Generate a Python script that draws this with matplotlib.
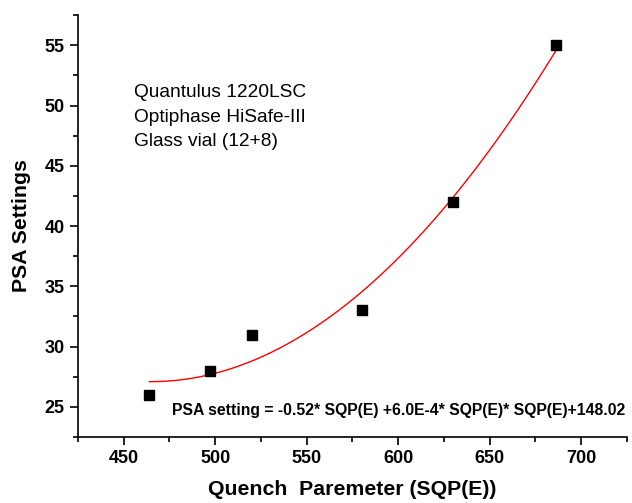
import matplotlib
matplotlib.use("Agg")
import matplotlib.pyplot as plt
import numpy as np
from matplotlib.ticker import MultipleLocator

# data
sqp = np.array([464, 497, 520, 580, 630, 686])
psa = np.array([26, 28, 31, 33, 42, 55])

info_lines = ["Quantulus 1220LSC", "Optiphase HiSafe-III", "Glass vial (12+8)"]
equation = "PSA setting = -0.52* SQP(E) +6.0E-4* SQP(E)* SQP(E)+148.02"

plt.rcParams['font.family'] = ['Liberation Sans', 'DejaVu Sans']

fig = plt.figure(figsize=(6.32, 5.03), dpi=100)
ax = fig.add_axes([0.1234, 0.1312, 0.8686, 0.8388])

# quadratic fit of the points
coef = np.polyfit(sqp, psa, 2)
xs = np.linspace(sqp.min(), sqp.max(), 200)
ax.plot(xs, np.polyval(coef, xs), color='red', lw=1)
ax.plot(sqp, psa, 's', color='black', ms=6.5)

ax.set_xlim(425, 725)
ax.set_ylim(22.5, 57.5)
ax.xaxis.set_major_locator(MultipleLocator(50))
ax.xaxis.set_minor_locator(MultipleLocator(25))
ax.yaxis.set_major_locator(MultipleLocator(5))
ax.yaxis.set_minor_locator(MultipleLocator(2.5))

for s in ['top', 'right']:
    ax.spines[s].set_visible(False)
for s in ['left', 'bottom']:
    ax.spines[s].set_linewidth(1.2)

ax.tick_params(which='major', direction='out', length=6, width=1.2, labelsize=13)
ax.tick_params(which='minor', direction='out', length=3.5, width=1.2)
for lab in ax.get_xticklabels() + ax.get_yticklabels():
    lab.set_fontweight('bold')

ax.set_xlabel("Quench  Paremeter (SQP(E))", fontsize=15.3, fontweight='bold', labelpad=9)
ax.set_ylabel("PSA Settings", fontsize=15.3, fontweight='bold', labelpad=10)

ax.text(0.102, 0.836, "\n".join(info_lines), transform=ax.transAxes,
        fontsize=13.8, va='top', ha='left', linespacing=1.58)
ax.text(0.171, 0.064, equation, transform=ax.transAxes,
        fontsize=11.3, fontweight='bold', va='center', ha='left')

fig.savefig("out.png", dpi=100)
